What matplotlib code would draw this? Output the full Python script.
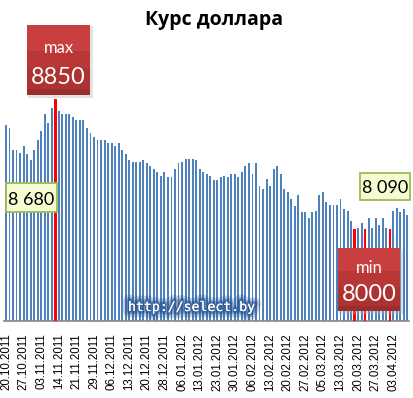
import numpy as np
import matplotlib
matplotlib.use('Agg')
import matplotlib.pyplot as plt
import matplotlib.patheffects as pe
from matplotlib.patches import Rectangle

# курс доллара по торговым дням (20.10.2011 - 09.04.2012)
rate = [8680, 8660, 8520, 8520, 8500, 8540, 8490, 8450, 8520, 8580,
        8640, 8750, 8690, 8790, 8850, 8770, 8750, 8750, 8750, 8730,
        8710, 8710, 8710, 8660, 8630, 8600, 8580, 8580, 8580, 8560,
        8560, 8540, 8560, 8520, 8490, 8450, 8440, 8440, 8440, 8450,
        8430, 8410, 8390, 8370, 8350, 8370, 8340, 8340, 8390, 8430,
        8440, 8460, 8460, 8460, 8450, 8390, 8370, 8360, 8350, 8320,
        8320, 8340, 8350, 8340, 8360, 8360, 8340, 8370, 8410, 8430,
        8360, 8430, 8280, 8260, 8330, 8280, 8390, 8410, 8360, 8260,
        8240, 8200, 8150, 8220, 8110, 8110, 8070, 8110, 8120, 8220,
        8240, 8180, 8160, 8160, 8160, 8200, 8130, 8120, 8050, 8000,
        8010, 8040, 8000, 8070, 8005, 8070, 8030, 8070, 8010, 8000,
        8120, 8140, 8110, 8130, 8090]

tick_labels = ['20.10.2011', '27.10.2011', '03.11.2011', '14.11.2011', '21.11.2011',
               '29.11.2011', '06.12.2011', '13.12.2011', '20.12.2011', '28.12.2011',
               '06.01.2012', '13.01.2012', '23.01.2012', '30.01.2012', '06.02.2012',
               '13.02.2012', '20.02.2012', '27.02.2012', '05.03.2012', '13.03.2012',
               '20.03.2012', '27.03.2012', '03.04.2012']

title = 'Курс доллара'
watermark = 'http://select.by'

W, H = 414, 398
fig = plt.figure(figsize=(W / 100, H / 100), dpi=100)
fig.patch.set_facecolor('white')

# оси: низ на 321 px, шкала 7400..9366
ax = fig.add_axes([4.2 / W, 1 - 321 / H, 405 / W, 301 / H])
vals = np.array(rate)
x = np.arange(len(vals))
ax.bar(x, vals, width=0.55, color='#4f81bd', zorder=2)

# max / min выделяем красным
mark = (vals == vals.max()) | (vals == vals.min())
ax.bar(x[mark], vals[mark], width=0.75, color='#ff0000', zorder=3)

ax.set_xlim(-0.5, len(vals) - 0.5)
ax.set_ylim(7400, 9366)
for s in ['top', 'left', 'right']:
    ax.spines[s].set_visible(False)
ax.spines['bottom'].set_color('#868686')
ax.spines['bottom'].set_linewidth(1.2)
ax.set_yticks([])
ax.set_xticks(x[::5])
ax.set_xticklabels(tick_labels, rotation=90, fontsize=8.3, family='Liberation Sans')
ax.tick_params(axis='x', length=0, pad=9)


def fx(px):
    return px / W


def fy(py):
    return 1 - py / H


def rect(x0, y0, x1, y1, **kw):
    r = Rectangle((fx(x0), fy(y1)), (x1 - x0) / W, (y1 - y0) / H,
                  transform=fig.transFigure, **kw)
    fig.add_artist(r)


def red_box(x0, y0, x1, y1, word, num):
    h = y1 - y0
    # мягкая тень
    rect(x0 + 1, y0 + 1, x1 + 3, y1 + 3, color='#b0b0b0', alpha=0.35, lw=0)
    bands = [(0.0, 0.37, '#c93e3e'), (0.37, 0.62, '#b93737'),
             (0.62, 0.92, '#ad3232'), (0.92, 1.0, '#9b2d2d')]
    for a, b, c in bands:
        rect(x0, y0 + a * h, x1, y0 + b * h, color=c, lw=0)
    cx = (x0 + x1) / 2
    fig.text(fx(cx), fy(y0 + 0.40 * h), word, color='white', fontsize=12,
             family='Lato', ha='center', va='baseline')
    fig.text(fx(cx), fy(y0 + 0.84 * h), num, color='white', fontsize=17,
             family='Lato', ha='center', va='baseline')


def green_box(x0, y0, x1, y1, txt):
    rect(x0, y0, x1, y1, facecolor='#f6fcd2', edgecolor='#9bbb59', lw=1.3)
    fig.text(fx((x0 + x1) / 2), fy(y1 - 7), txt, color='black', fontsize=13,
             family='Lato', ha='center', va='baseline')


red_box(27, 25, 90, 95, 'max', '%d' % vals.max())
red_box(338, 248, 400, 311, 'min', '%d' % vals.min())
green_box(6, 183, 57, 212, '8 680')
green_box(360, 173, 410, 200, '8 090')

fig.text(fx(214), fy(25), title, fontsize=14, fontweight='bold',
         family='Open Sans', ha='center', va='baseline')

wm = fig.text(fx(192), fy(311), watermark, fontsize=9.5, color='white',
              family='DejaVu Sans Mono', ha='center', va='baseline')
wm.set_path_effects([pe.withStroke(linewidth=9, foreground='#1f4e8c', alpha=0.25),
                     pe.withStroke(linewidth=5, foreground='#1f4e8c', alpha=0.4),
                     pe.withStroke(linewidth=2.5, foreground='#2a5a96', alpha=0.7),
                     pe.Normal()])

fig.savefig('out.png', dpi=100)
